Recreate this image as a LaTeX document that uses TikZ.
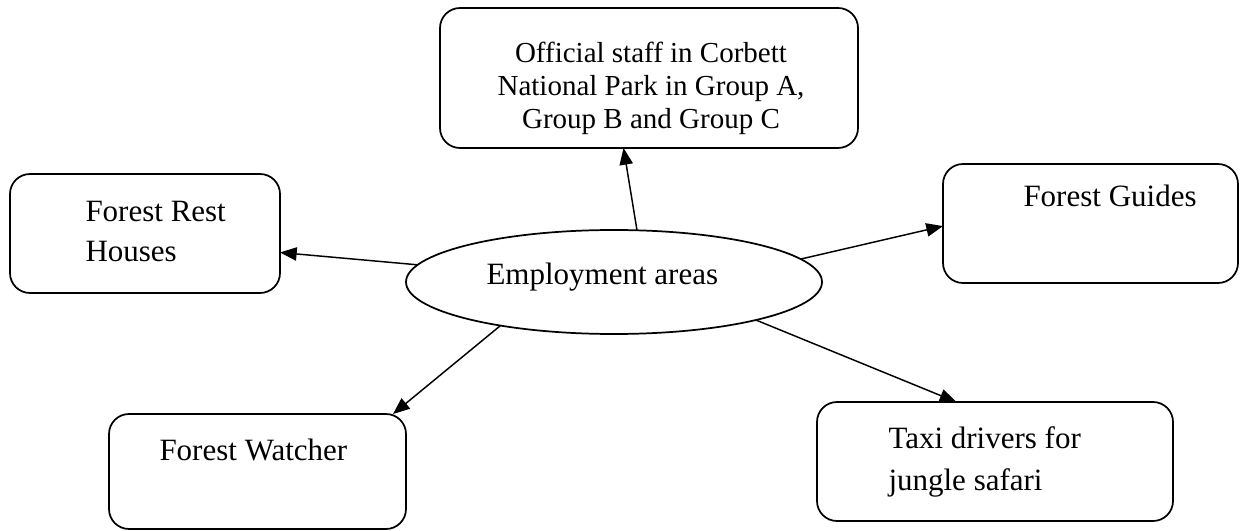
\documentclass[tikz,border=0pt]{standalone}
\usepackage{fontspec}
\setmainfont{Liberation Serif}
\usetikzlibrary{arrows.meta,shapes.geometric}

\tikzset{every picture/.style={line width=0.75pt}}
\tikzset{
  roundbox/.style={draw, rounded corners=15pt, line width=1.3pt, inner sep=0pt, outer sep=0pt},
  areatxt/.style={inner sep=0pt, font=\fontsize{23.25}{30}\selectfont},
  conn/.style={line width=1.1pt, -{Triangle[length=12.5pt,width=10pt]}}
}

\begin{document}
\begin{tikzpicture}[x=0.75pt,y=0.75pt,yscale=-1,xscale=1]
\useasboundingbox (0,0) rectangle (1243,531);

%Shape: Ellipse [id:emp]
\node [draw, ellipse, line width=1.3pt, inner sep=0pt, outer sep=0pt, minimum width=312pt, minimum height=78pt] (emp) at (614,282) {};
%Shape: Rounded Rect [id:offic]
\node [roundbox, minimum width=313.5pt, minimum height=105pt] (offic) at (649,78) {};
%Shape: Rounded Rect [id:rest]
\node [roundbox, minimum width=202.5pt, minimum height=89.25pt] (rest) at (145,233.5) {};
%Shape: Rounded Rect [id:guide]
\node [roundbox, minimum width=221.25pt, minimum height=89.25pt] (guide) at (1090.5,223.5) {};
%Shape: Rounded Rect [id:watch]
\node [roundbox, minimum width=222.75pt, minimum height=86.25pt] (watch) at (257.5,471.5) {};
%Shape: Rounded Rect [id:taxi]
\node [roundbox, minimum width=267pt, minimum height=89.25pt] (taxi) at (995,461.5) {};

% Text Node
\node [areatxt, anchor=base west] (emptxt) at (486,285) {Employment areas};
% Text Node (base = last line)
\node [areatxt, anchor=base, align=center, font=\fontsize{21.75}{24.75}\selectfont] (offictxt) at (651,129) {Official staff in Corbett\\National Park in Group A,\\Group B and Group C};
% Text Node
\node [areatxt, anchor=base west, align=left] (resttxt) at (85,262) {Forest Rest\\Houses};
% Text Node
\node [areatxt, anchor=base west] (guidetxt) at (1023,207) {Forest Guides};
% Text Node
\node [areatxt, anchor=base west] (watchtxt) at (159,460) {Forest Watcher};
% Text Node
\node [areatxt, anchor=base west, align=left, font=\fontsize{23.25}{31.5}\selectfont] (taxitxt) at (888,490) {Taxi drivers for\\jungle safari};

% Connectors
\draw [conn] (emp.66.5) -- (offic.250);
\draw [conn] (emp.175.7) -- (rest.-8);
\draw [conn] (emp.7.3) -- (guide.181);
\draw [conn] (emp.-159.65) -- (watch.23.6);
\draw [conn] (emp.-15.3) -- (taxi.123.5);

\end{tikzpicture}
\end{document}
